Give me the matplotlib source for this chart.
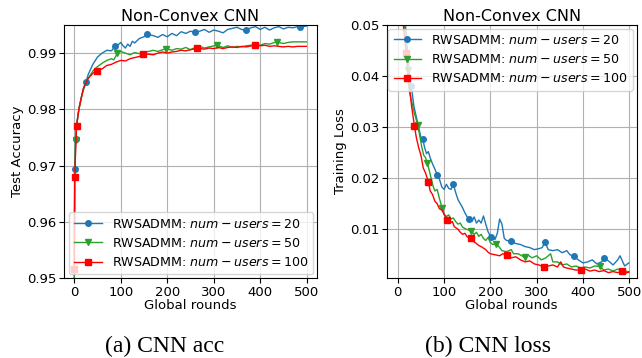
import matplotlib
matplotlib.use('Agg')
import matplotlib.pyplot as plt

# ---- test accuracy (left panel) ----
acc20_x = [0, 1, 3, 5, 8, 10, 15, 20, 25, 30, 40, 50, 60, 70, 80, 88, 95, 100, 105, 110, 115, 120, 125,
           130, 140, 150, 157, 170, 180, 190, 200, 210, 220, 230, 240, 250, 259, 270, 280, 290, 300, 310,
           320, 330, 340, 350, 360, 370, 380, 390, 400, 410, 420, 430, 440, 450, 460, 470, 480, 486, 499]
acc20_y = [0.945, 0.9693, 0.9748, 0.9770, 0.9790, 0.9800, 0.9820, 0.9838, 0.9848, 0.9862, 0.9880, 0.9893,
           0.9900, 0.9905, 0.9904, 0.9912, 0.9915, 0.9919, 0.9913, 0.9909, 0.9916, 0.9912, 0.9921,
           0.9918, 0.9926, 0.9929, 0.9934, 0.9931, 0.9928, 0.9933, 0.9929, 0.9935, 0.9931, 0.9938,
           0.9935, 0.9939, 0.9937, 0.9939, 0.9942, 0.9937, 0.9941, 0.9939, 0.9936, 0.9942, 0.9944,
           0.9946, 0.9942, 0.9941, 0.9945, 0.9947, 0.9942, 0.9946, 0.9941, 0.9945, 0.9947, 0.9943,
           0.9946, 0.9945, 0.9947, 0.9947, 0.9948]
acc20_marks = [1, 3, 25, 88, 157, 259, 370, 486]

acc50_x = [0, 1, 3, 5, 10, 15, 20, 25, 30, 40, 50, 60, 70, 80, 85, 93, 100, 110, 120, 130, 140, 150, 160,
           170, 180, 190, 197, 210, 220, 230, 240, 250, 260, 270, 280, 290, 307, 320, 330, 340, 350, 360,
           370, 380, 390, 400, 410, 420, 435, 450, 460, 470, 480, 499]
acc50_y = [0.945, 0.9680, 0.9746, 0.9770, 0.9800, 0.9820, 0.9835, 0.9847, 0.9855, 0.9868, 0.9876, 0.9882,
           0.9887, 0.9890, 0.9888, 0.9900, 0.9903, 0.9900, 0.9897, 0.9901, 0.9899, 0.9902, 0.9903,
           0.9905, 0.9903, 0.9906, 0.9908, 0.9905, 0.9908, 0.9907, 0.9910, 0.9906, 0.9910, 0.9912,
           0.9909, 0.9911, 0.9914, 0.9910, 0.9913, 0.9910, 0.9912, 0.9911, 0.9913, 0.9914, 0.9915,
           0.9914, 0.9917, 0.9916, 0.9920, 0.9917, 0.9919, 0.9920, 0.9920, 0.9920]
acc50_marks = [3, 93, 197, 307, 435]

acc100_x = [0, 1, 5, 10, 15, 20, 30, 40, 50, 60, 70, 80, 90, 100, 110, 120, 130, 140, 148, 160, 170, 180,
            190, 200, 210, 220, 230, 240, 250, 265, 280, 290, 300, 310, 320, 330, 340, 350, 360, 370,
            388, 400, 410, 420, 430, 440, 450, 460, 470, 480, 499]
acc100_y = [0.9516, 0.9679, 0.9771, 0.9800, 0.9820, 0.9838, 0.9855, 0.9864, 0.9869, 0.9872, 0.9878,
            0.9880, 0.9884, 0.9887, 0.9886, 0.9890, 0.9892, 0.9894, 0.9898, 0.9898, 0.9897, 0.9900,
            0.9902, 0.9900, 0.9902, 0.9903, 0.9905, 0.9904, 0.9906, 0.9909, 0.9907, 0.9909, 0.9908,
            0.9910, 0.9908, 0.9910, 0.9911, 0.9910, 0.9912, 0.9911, 0.9914, 0.9913, 0.9914, 0.9912,
            0.9913, 0.9912, 0.9911, 0.9912, 0.9911, 0.9912, 0.9912]
acc100_marks = [0, 1, 5, 50, 148, 265, 388]

# ---- training loss (right panel) ----
loss20_x = [0, 10, 15, 20, 25, 29, 35, 40, 45, 50, 54, 58, 62, 66, 70, 75, 80, 85, 90, 95, 100, 105, 110,
            115, 120, 125, 130, 135, 140, 145, 150, 154, 160, 165, 170, 175, 180, 185, 190, 195, 201,
            205, 210, 215, 220, 225, 230, 235, 245, 255, 265, 275, 285, 295, 305, 312, 318, 325, 335,
            345, 355, 365, 372, 380, 390, 400, 410, 420, 430, 440, 446, 455, 465, 475, 480, 485, 490, 499]
loss20_y = [0.12, 0.060, 0.052, 0.046, 0.041, 0.0381, 0.034, 0.032, 0.030, 0.028, 0.0276, 0.026, 0.0248,
            0.0252, 0.0240, 0.0228, 0.0218, 0.0207, 0.0198, 0.0183, 0.0178, 0.0188, 0.0180, 0.0178,
            0.0188, 0.0172, 0.0158, 0.0150, 0.0142, 0.0132, 0.0124, 0.0121, 0.0115, 0.0124, 0.0112,
            0.0118, 0.0112, 0.0126, 0.0110, 0.0095, 0.0085, 0.0084, 0.0080, 0.0092, 0.0120, 0.0110,
            0.0082, 0.0078, 0.0076, 0.0072, 0.0070, 0.0066, 0.0064, 0.0060, 0.0062, 0.0064, 0.0075,
            0.0060, 0.0058, 0.0060, 0.0054, 0.0058, 0.0050, 0.0047, 0.0040, 0.0034, 0.0036, 0.0040,
            0.0032, 0.0036, 0.0043, 0.0038, 0.0030, 0.0040, 0.0048, 0.0038, 0.0028, 0.0034]
loss20_marks = [29, 54, 85, 120, 154, 201, 245, 318, 380, 446]

loss50_x = [0, 10, 15, 21, 25, 30, 35, 43, 48, 52, 56, 60, 64, 68, 72, 76, 80, 85, 90, 96, 100, 105, 110,
            115, 120, 125, 130, 135, 140, 148, 158, 165, 170, 175, 180, 185, 190, 195, 200, 205, 213,
            220, 225, 235, 245, 250, 260, 274, 280, 290, 300, 310, 320, 330, 335, 345, 355, 365, 375,
            385, 395, 405, 415, 425, 437, 445, 455, 465, 475, 485, 499]
loss50_y = [0.12, 0.058, 0.050, 0.0411, 0.037, 0.035, 0.033, 0.0304, 0.028, 0.026, 0.0245, 0.0240,
            0.0229, 0.0215, 0.0200, 0.0185, 0.0175, 0.0178, 0.0160, 0.0141, 0.0128, 0.0125, 0.0128,
            0.0120, 0.0122, 0.0115, 0.0110, 0.0112, 0.0104, 0.0100, 0.0097, 0.0090, 0.0094, 0.0086,
            0.0090, 0.0082, 0.0078, 0.0084, 0.0074, 0.0070, 0.0072, 0.0064, 0.0058, 0.0056, 0.0060,
            0.0052, 0.0052, 0.0045, 0.0050, 0.0044, 0.0048, 0.0040, 0.0044, 0.0052, 0.0036, 0.0036,
            0.0030, 0.0032, 0.0026, 0.0028, 0.0024, 0.0026, 0.0024, 0.0028, 0.0027, 0.0020, 0.0022,
            0.0018, 0.0022, 0.0018, 0.0017]
loss50_marks = [21, 43, 64, 96, 158, 213, 274, 437]

loss100_x = [0, 8, 12, 18, 25, 30, 36, 40, 45, 50, 55, 60, 66, 70, 75, 80, 85, 90, 95, 100, 107, 112, 118,
             122, 130, 135, 140, 145, 150, 159, 165, 170, 175, 180, 190, 195, 200, 210, 220, 227, 236,
             245, 255, 265, 275, 285, 295, 305, 315, 325, 335, 345, 352, 358, 365, 375, 385, 396, 405,
             415, 425, 435, 445, 455, 465, 475, 484, 492, 499]
loss100_y = [0.12, 0.055, 0.050, 0.0445, 0.038, 0.034, 0.0302, 0.028, 0.026, 0.0245, 0.022, 0.021,
             0.0193, 0.0175, 0.0168, 0.0155, 0.0150, 0.0140, 0.0138, 0.0130, 0.0119, 0.0112, 0.0115,
             0.0105, 0.0100, 0.0094, 0.0090, 0.0092, 0.0085, 0.0082, 0.0075, 0.0072, 0.0068, 0.0066,
             0.0060, 0.0055, 0.0052, 0.0050, 0.0048, 0.0052, 0.0049, 0.0044, 0.0046, 0.0040, 0.0036,
             0.0038, 0.0032, 0.0030, 0.0026, 0.0028, 0.0030, 0.0026, 0.0036, 0.0026, 0.0024, 0.0022,
             0.0020, 0.0020, 0.0022, 0.0018, 0.0020, 0.0017, 0.0019, 0.0015, 0.0017, 0.0015, 0.0018,
             0.0014, 0.0016]
loss100_marks = [18, 36, 66, 107, 159, 236, 315, 396, 484]

labels = ['RWSADMM: $num-users=20$', 'RWSADMM: $num-users=50$', 'RWSADMM: $num-users=100$']
colors = ['#1f77b4', '#2ca02c', 'red']
markers = ['o', 'v', 's']

fig = plt.figure(figsize=(6.42, 3.58), dpi=100)
ax1 = fig.add_axes([0.0997, 0.2235, 0.394, 0.7067])
ax2 = fig.add_axes([0.6023, 0.2235, 0.3894, 0.7067])

acc = [(acc20_x, acc20_y, acc20_marks), (acc50_x, acc50_y, acc50_marks), (acc100_x, acc100_y, acc100_marks)]
loss = [(loss20_x, loss20_y, loss20_marks), (loss50_x, loss50_y, loss50_marks),
        (loss100_x, loss100_y, loss100_marks)]

for ax, series in [(ax1, acc), (ax2, loss)]:
    for (xs, ys, mk), lab, c, m in zip(series, labels, colors, markers):
        ax.plot(xs, ys, color=c, marker=m, markersize=4, linewidth=1,
                markevery=[xs.index(v) for v in mk], label=lab)
    ax.grid(True)
    ax.set_title('Non-Convex CNN', fontsize=11.5, pad=3)
    ax.set_xlabel('Global rounds', fontsize=9.5, labelpad=0)
    ax.tick_params(labelsize=9.5, pad=2)
    ax.set_xticks([0, 100, 200, 300, 400, 500])

ax1.set_xlim(-22, 522)
ax1.set_ylim(0.95, 0.995)
ax1.set_yticks([0.95, 0.96, 0.97, 0.98, 0.99])
ax1.set_ylabel('Test Accuracy', fontsize=9.5, labelpad=2)
ax1.legend(loc='lower right', fontsize=9.1, handlelength=2.2, borderaxespad=0.3)

ax2.set_xlim(-24, 516)
ax2.set_ylim(0.00045, 0.05)
ax2.set_yticks([0.01, 0.02, 0.03, 0.04, 0.05])
ax2.set_ylabel('Training Loss', fontsize=9.5, labelpad=2)
ax2.legend(loc='upper right', fontsize=9.1, handlelength=2.2, borderaxespad=0.3)

fig.text(0.256, 0.018, '(a) CNN acc', fontsize=17, family='Liberation Serif', ha='center', va='baseline')
fig.text(0.760, 0.018, '(b) CNN loss', fontsize=17, family='Liberation Serif', ha='center', va='baseline')

fig.savefig('out.png', dpi=100)
